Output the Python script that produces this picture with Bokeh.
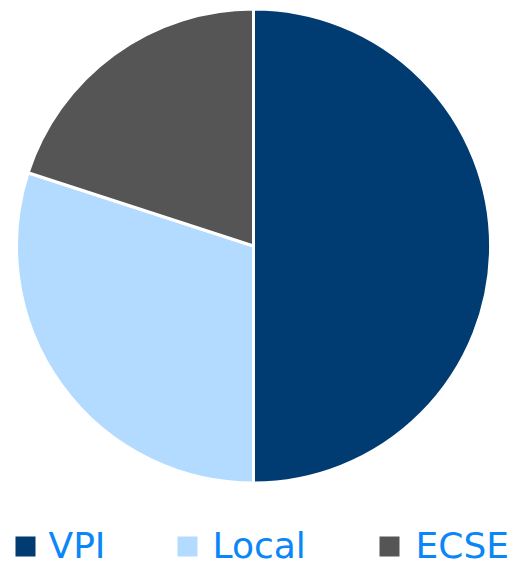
import math
from bokeh.plotting import figure
from bokeh.models import Range1d, ColumnDataSource
from bokeh.core.properties import value
from bokeh.embed import file_html
from bokeh.resources import INLINE

# ---- data ----
labels = ["VPI", "Local", "ECSE"]
shares = [50, 30, 20]
colors = ["#003B71", "#B3DBFF", "#555555"]
text_color = "#0A86F7"

# ---- layout (page pixels, y measured from top of window) ----
W, H = 516, 562
cx, cy, R = 253.0, 245.5, 237.0
legend_square_x = [25, 187, 389]
legend_text_x = [48, 212, 415]
legend_square_y = 546
legend_text_mid = 545


def Y(page_y):
    return H - page_y


total = float(sum(shares))
starts, ends = [], []
cum = 0.0
for s in shares:
    a0 = math.pi / 2 - 2 * math.pi * (cum + s) / total
    a1 = math.pi / 2 - 2 * math.pi * cum / total
    starts.append(a0)
    ends.append(a1)
    cum += s

p = figure(width=W, height=H, output_backend="svg", toolbar_location=None,
           x_range=Range1d(0, W), y_range=Range1d(0, H),
           min_border=0, outline_line_color=None)
p.axis.visible = False
p.grid.visible = False
p.background_fill_color = "white"
p.border_fill_color = "white"

src = ColumnDataSource(dict(label=labels, share=shares, color=colors,
                            start=starts, end=ends))
p.wedge(x=cx, y=Y(cy), radius=R, start_angle="start", end_angle="end",
        fill_color="color", line_color="white", line_width=3, source=src)

leg = ColumnDataSource(dict(label=labels, color=colors,
                            sx=legend_square_x, tx=legend_text_x,
                            sy=[Y(legend_square_y)] * 3,
                            ty=[Y(legend_text_mid)] * 3))
p.scatter(x="sx", y="sy", marker="square", size=20, fill_color="color",
          line_color=None, source=leg)
p.text(x="tx", y="ty", text="label", source=leg, text_color=text_color,
       text_font=value("DejaVu Sans"), text_font_size="36px",
       text_baseline="middle", text_align="left")

open("out.html", "w").write(file_html(p, INLINE))
